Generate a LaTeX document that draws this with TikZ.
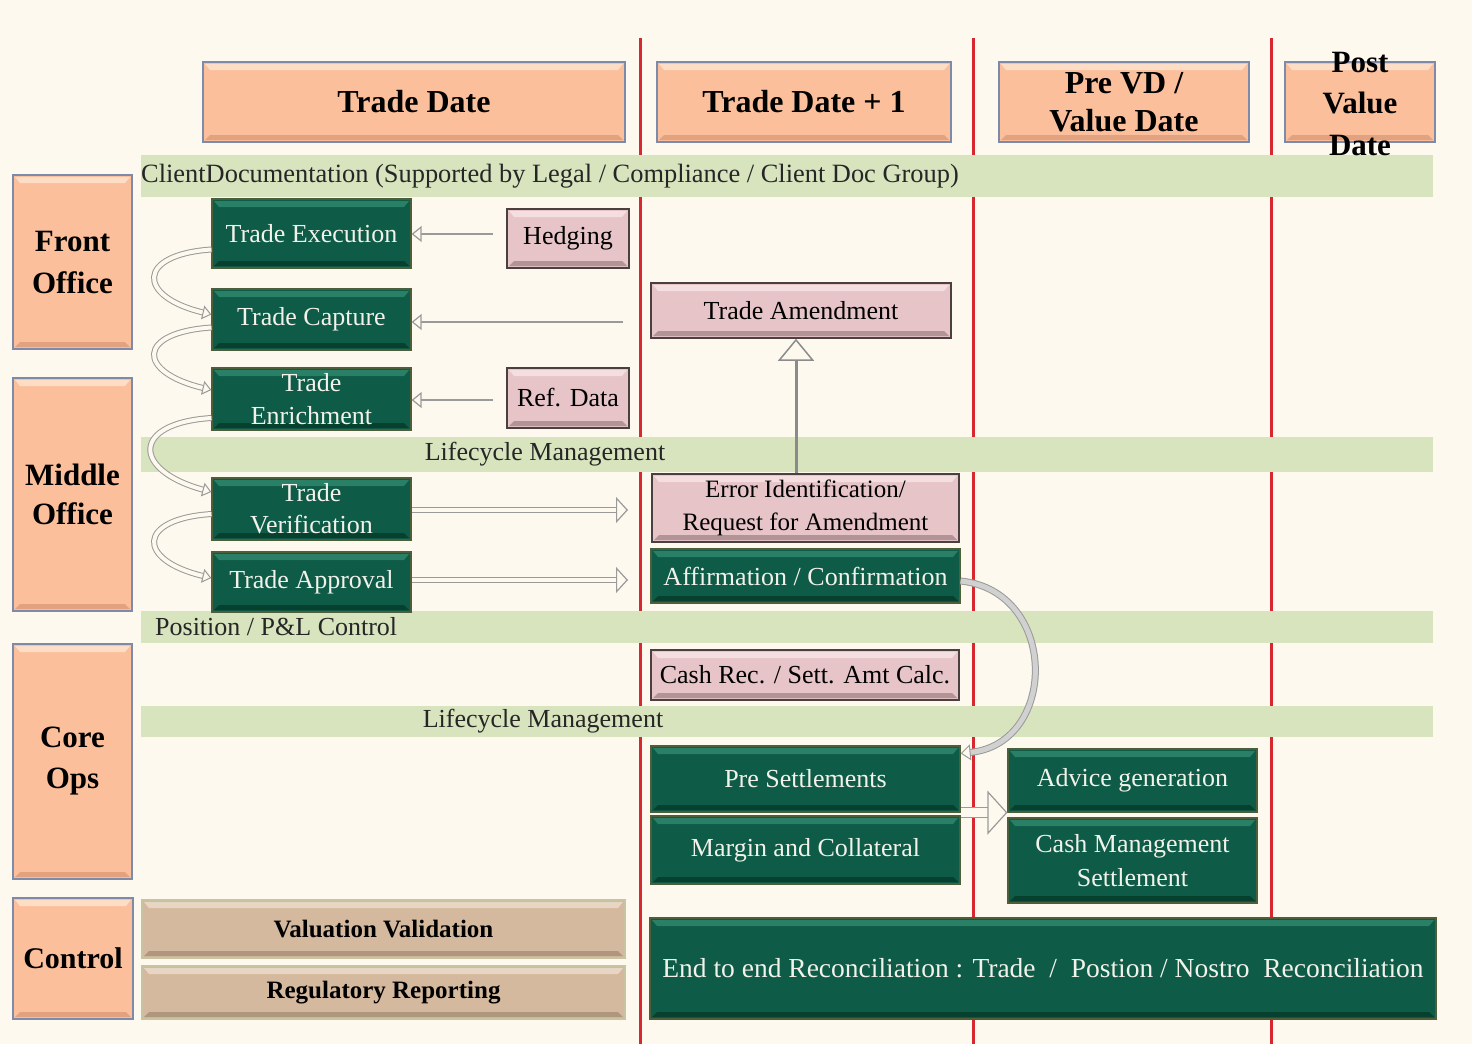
\documentclass[tikz,border=0pt]{standalone}
\usepackage{fontspec}
\setmainfont{Liberation Serif}
\usetikzlibrary{arrows.meta}
\definecolor{bg}{HTML}{FDF9EE}
\definecolor{redl}{HTML}{D7282F}
\definecolor{band}{HTML}{D7E4BE}
\definecolor{gmain}{HTML}{0E5B47}
\definecolor{gtop}{HTML}{2A8067}
\definecolor{gbot}{HTML}{07402F}
\definecolor{gedge}{HTML}{4C5E3A}
\definecolor{smain}{HTML}{FBC09B}
\definecolor{stop}{HTML}{FDDDC6}
\definecolor{sbot}{HTML}{E3A27F}
\definecolor{sedge}{HTML}{7D8BA8}
\definecolor{pmain}{HTML}{E6C4C7}
\definecolor{ptop}{HTML}{F4DEDF}
\definecolor{pbot}{HTML}{B29496}
\definecolor{pedge}{HTML}{4A4040}
\definecolor{tmain}{HTML}{D5B99E}
\definecolor{ttop}{HTML}{E8D6C4}
\definecolor{tbot}{HTML}{AE967F}
\definecolor{tedge}{HTML}{C8C3A0}
\definecolor{arrg}{HTML}{9A9A9A}
\definecolor{gtext}{HTML}{F2F2EA}
\begin{document}
\begin{tikzpicture}[x=1pt,y=-1pt,
  bevel/.style n args={3}{fill=#1, path picture={
    \fill[#2] ([xshift=2pt,yshift=-2pt]path picture bounding box.north west) -- ([xshift=-2pt,yshift=-2pt]path picture bounding box.north east) -- ([xshift=-7pt,yshift=-8pt]path picture bounding box.north east) -- ([xshift=7pt,yshift=-8pt]path picture bounding box.north west) -- cycle;
    \fill[#3] ([xshift=2pt,yshift=2pt]path picture bounding box.south west) -- ([xshift=-2pt,yshift=2pt]path picture bounding box.south east) -- ([xshift=-7pt,yshift=7pt]path picture bounding box.south east) -- ([xshift=7pt,yshift=7pt]path picture bounding box.south west) -- cycle;
  }},
  box/.style={inner sep=0pt, align=center},
  hdr/.style={box, bevel={smain}{stop}{sbot}, draw=sedge, line width=2pt, font=\fontsize{32}{38}\selectfont\bfseries},
  rowl/.style={box, bevel={smain}{stop}{sbot}, draw=sedge, line width=2pt, font=\fontsize{31}{42}\selectfont\bfseries},
  gbox/.style={box, bevel={gmain}{gtop}{gbot}, draw=gedge, line width=1.2pt, text=gtext, font=\fontsize{26}{33}\selectfont},
  pbox/.style={box, bevel={pmain}{ptop}{pbot}, draw=pedge, line width=1.5pt, font=\fontsize{26}{33}\selectfont},
  tbox/.style={box, bevel={tmain}{ttop}{tbot}, draw=tedge, line width=1.5pt, font=\fontsize{25}{30}\selectfont\bfseries},
  bandst/.style={fill=band, inner sep=0pt, minimum width=1292pt},
  bandtxt/.style={inner sep=0pt, text=black!85, font=\fontsize{26}{30}\selectfont},
  redline/.style={draw=redl, line width=3pt},
  thinarr/.style={draw=arrg, line width=1.5pt, -{Triangle[open, fill=bg, length=10pt, width=16pt, line width=1.2pt]}},
  amdarr/.style={draw=arrg!90!black, line width=3pt, -{Triangle[open, fill=bg, length=22pt, width=36pt, line width=1.5pt]}},
  hollowarr/.style={draw=arrg, double=bg, double distance=4pt, line width=1pt, -{Triangle[open, fill=bg, length=12pt, width=26pt, line width=1.2pt]}},
  curvarr/.style={draw=arrg, double=bg, double distance=4pt, line width=1pt, -{Triangle[open, fill=bg, length=9pt, width=14pt, line width=1pt]}},
  bigcurv/.style={draw=arrg, double=black!18, double distance=5pt, line width=1pt, -{Triangle[open, fill=bg, length=10pt, width=16pt, line width=1pt]}},
  blockarr/.style={draw=arrg, double=bg, double distance=9pt, line width=1.2pt, -{Triangle[open, fill=bg, length=20pt, width=44pt, line width=1.2pt]}}
]
\fill[bg] (0,0) rectangle (1472,1044);
\useasboundingbox (0,0) rectangle (1472,1044);

% red column separators
\draw[redline] (640,38) -- (640,1044);
\draw[redline] (973,38) -- (973,1044);
\draw[redline] (1271,38) -- (1271,1044);

% horizontal bands
\node[bandst, minimum height=42pt] (b1) at (787,176) {};
\node[bandst, minimum height=35pt] (b2) at (787,454.5) {};
\node[bandst, minimum height=32pt] (b3) at (787,627) {};
\node[bandst, minimum height=31pt] (b4) at (787,721.5) {};
\node[bandtxt, anchor=west, font=\fontsize{26.4}{30}\selectfont] (t1) at (141,176) {ClientDocumentation (Supported by Legal / Compliance / Client Doc Group)};
\node[bandtxt] (t2) at (545,454) {Lifecycle Management};
\node[bandtxt, anchor=west] (t3) at (155,627) {Position / P\&L Control};
\node[bandtxt] (t4) at (543,721) {Lifecycle Management};

% headers
\node[hdr, minimum width=422pt, minimum height=80pt] (hTD) at (414,102) {Trade Date};
\node[hdr, minimum width=294pt, minimum height=80pt] (hTD1) at (804,102) {Trade Date + 1};
\node[hdr, minimum width=250pt, minimum height=80pt] (hPre) at (1124,102) {Pre VD /\\Value Date};
\node[hdr, minimum width=150pt, minimum height=80pt] (hPost) at (1360,102) {};
\node[box, font=\fontsize{31}{41}\selectfont\bfseries] (hPostT) at (1360,104) {Post\\Value\\Date};

% row labels
\node[rowl, minimum width=119pt, minimum height=174pt] (rFO) at (72.5,262) {Front\\Office};
\node[rowl, minimum width=119pt, minimum height=233pt, font=\fontsize{31}{39}\selectfont\bfseries] (rMO) at (72.5,494.5) {Middle\\Office};
\node[rowl, minimum width=119pt, minimum height=235pt, font=\fontsize{31}{41}\selectfont\bfseries] (rCO) at (72.5,761.5) {Core\\Ops};
\node[rowl, minimum width=120pt, minimum height=121pt, font=\fontsize{30}{36}\selectfont\bfseries] (rCT) at (73,958.5) {Control};

% green process boxes
\node[gbox, minimum width=199pt, minimum height=69pt] (gExe) at (311.5,233.5) {Trade Execution};
\node[gbox, minimum width=199pt, minimum height=61pt] (gCap) at (311.5,319.5) {Trade Capture};
\node[gbox, minimum width=199pt, minimum height=62pt] (gEnr) at (311.5,399) {Trade\\Enrichment};
\node[gbox, minimum width=199pt, minimum height=62pt, font=\fontsize{26}{32}\selectfont] (gVer) at (311.5,509) {Trade\\Verification};
\node[gbox, minimum width=199pt, minimum height=60pt] (gApp) at (311.5,582) {Trade Approval};
\node[gbox, minimum width=309pt, minimum height=54pt] (gAff) at (805.5,576) {Affirmation / Confirmation};
\node[gbox, minimum width=309pt, minimum height=66pt] (gPre) at (805.5,779) {Pre Settlements};
\node[gbox, minimum width=309pt, minimum height=68pt] (gMar) at (805.5,850) {Margin and Collateral};
\node[gbox, minimum width=249pt, minimum height=63pt] (gAdv) at (1132.5,780.5) {Advice generation};
\node[gbox, minimum width=249pt, minimum height=85pt, font=\fontsize{26}{34}\selectfont] (gCash) at (1132.5,860.5) {Cash Management\\Settlement};
\node[gbox, minimum width=786pt, minimum height=101pt, font=\fontsize{27.5}{33}\selectfont] (gRec) at (1043,968.5) {End to end Reconciliation : Trade~~/~~Postion / Nostro~~Reconciliation};

% pink boxes
\node[pbox, minimum width=122pt, minimum height=59pt] (pHed) at (568,238.5) {Hedging};
\node[pbox, minimum width=122pt, minimum height=60pt] (pRef) at (568,398) {Ref. Data};
\node[pbox, minimum width=300pt, minimum height=55pt] (pAmd) at (801,310.5) {Trade Amendment};
\node[pbox, minimum width=307pt, minimum height=68pt, font=\fontsize{25}{33}\selectfont] (pErr) at (805.5,508) {Error Identification/\\Request for Amendment};
\node[pbox, minimum width=308pt, minimum height=50pt] (pCash) at (805,675) {Cash Rec. / Sett. Amt Calc.};

% tan control boxes
\node[tbox, minimum width=483pt, minimum height=58pt] (tVal) at (383.5,929) {Valuation Validation};
\node[tbox, minimum width=483pt, minimum height=53pt] (tReg) at (383.5,992.5) {Regulatory Reporting};

% free ends of connectors
\coordinate (hedT) at (493,234);
\coordinate (capT) at (623,322);
\coordinate (refT) at (493,400);
\coordinate (verT) at (628,510);
\coordinate (appT) at (628,580);

% straight connectors
\draw[thinarr] (hedT) -- (hedT -| gExe.east);
\draw[thinarr] (capT) -- (capT -| gCap.east);
\draw[thinarr] (refT) -- (refT -| gEnr.east);
\draw[hollowarr] (gVer.east |- verT) -- (verT);
\draw[hollowarr] (gApp.east |- appT) -- (appT);
\draw[amdarr] ([xshift=-9.5pt]pErr.north) -- ([xshift=-9.5pt]pErr.north |- pAmd.south);

% curved connectors on the left
\draw[curvarr] ([yshift=-16pt]gExe.west) .. controls +(-75,5) and +(-75,-18) .. ([yshift=5pt]gCap.west);
\draw[curvarr] ([yshift=-8pt]gCap.west) .. controls +(-75,5) and +(-75,-18) .. ([yshift=9pt]gEnr.west);
\draw[curvarr] ([yshift=-19pt]gEnr.west) .. controls +(-80,5) and +(-80,-22) .. ([yshift=17pt]gVer.west);
\draw[curvarr] ([yshift=-5pt]gVer.west) .. controls +(-75,5) and +(-75,-18) .. ([yshift=4pt]gApp.west);

% big curve on the right
\draw[bigcurv] ([yshift=-5pt]gAff.east) .. controls +(98,10) and +(98,-10) .. ([yshift=-8pt]gPre.north east);

% block arrow to settlement
\draw[blockarr] (gPre.south east) -- (gAdv.south west);
\end{tikzpicture}
\end{document}
